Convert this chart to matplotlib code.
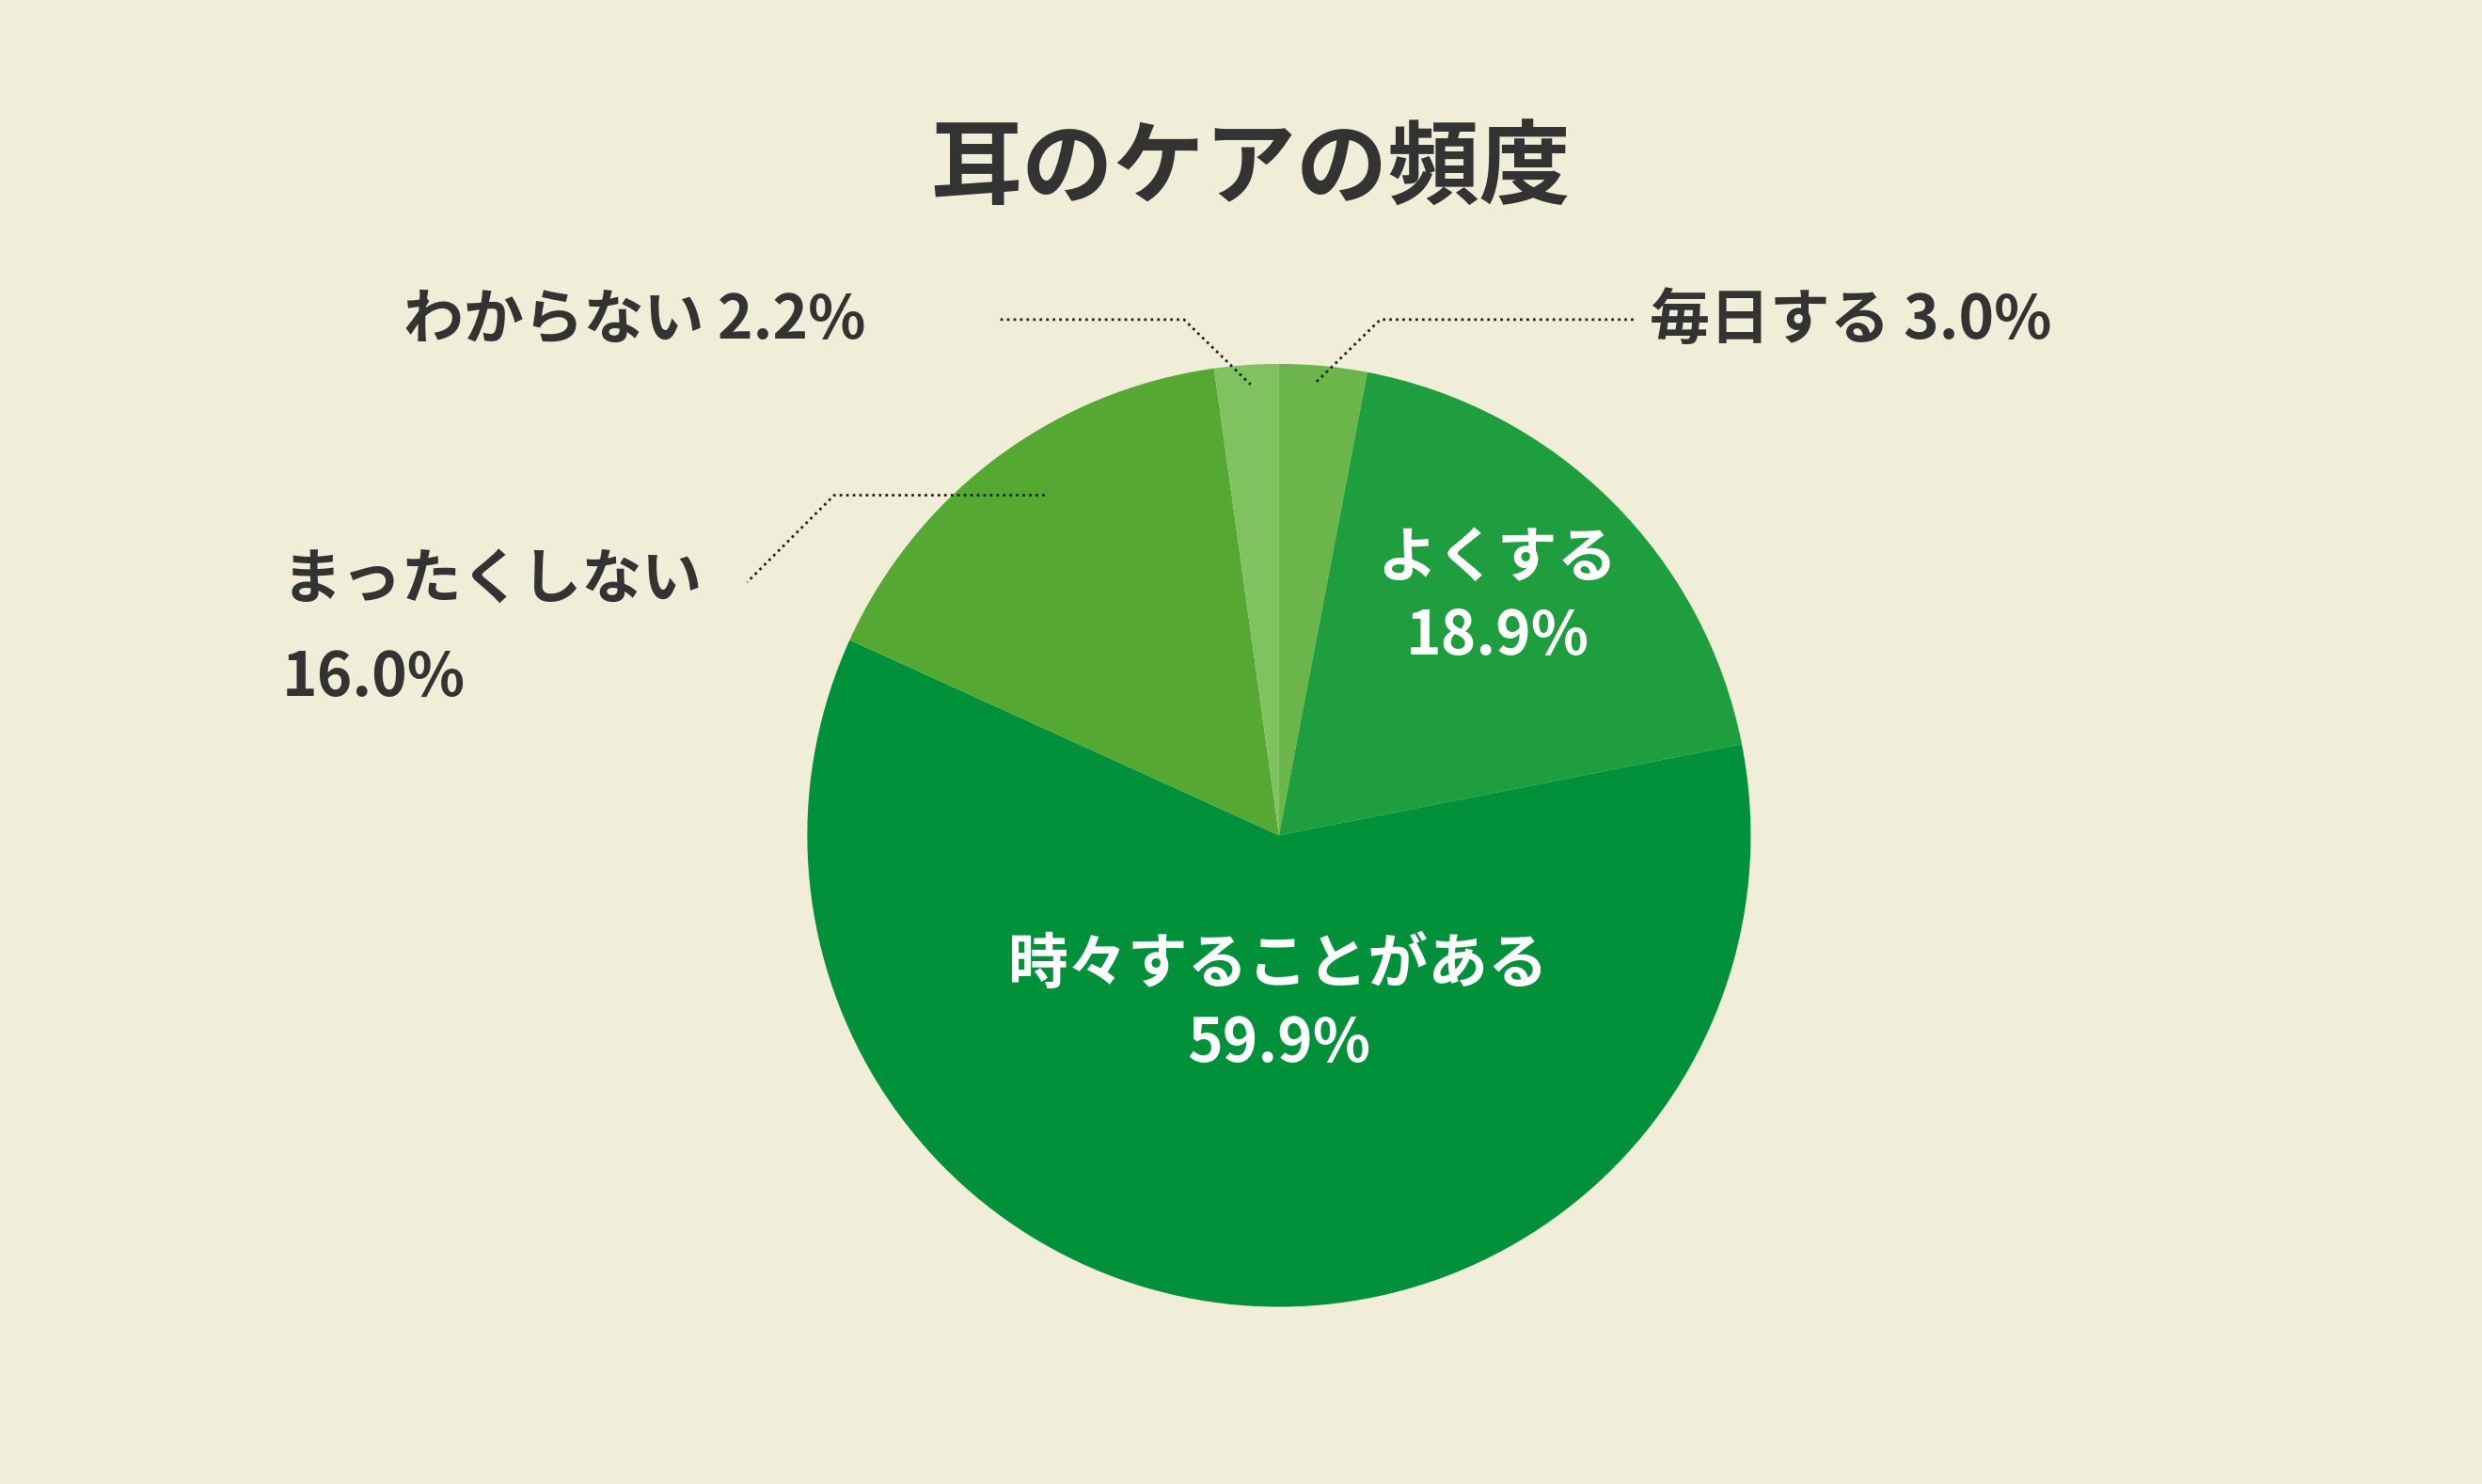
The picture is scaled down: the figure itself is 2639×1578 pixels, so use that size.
import matplotlib
matplotlib.use("Agg")
import matplotlib.pyplot as plt

labels = ["毎日する", "よくする", "時々することがある", "まったくしない", "わからない"]
values = [3.0, 18.9, 59.9, 16.0, 2.2]
colors = ["#6bb54a", "#1e9e3e", "#00913a", "#55a832", "#7fc25f"]

plt.rcParams['font.family'] = ['Noto Sans CJK JP', 'DejaVu Sans']
W, H = 1568, 938
fig = plt.figure(figsize=(26.39, 15.78), dpi=100, facecolor="#f0eed8")
ax = fig.add_axes([0, 0, 1, 1])
ax.set_xlim(0, W); ax.set_ylim(0, H); ax.axis("off")
ax.set_facecolor("#f0eed8")
Y = lambda y: H - y

ax.pie(values, colors=colors, startangle=90, counterclock=False,
       center=(808, Y(528)), radius=298, frame=True,
       wedgeprops=dict(linewidth=0))
ax.set_xlim(0, W); ax.set_ylim(0, H); ax.axis("off")
ax.set_aspect("auto")

dark = "#333333"
ax.text(790, Y(108), "耳のケアの頻度", fontsize=70, fontweight="bold", color=dark, ha="center", va="center")

fs = 46
ax.text(255, Y(203), "わからない 2.2%", fontsize=fs, fontweight="bold", color=dark, ha="left", va="center")
ax.text(1042, Y(203), "毎日する 3.0%", fontsize=fs, fontweight="bold", color=dark, ha="left", va="center")
ax.text(178, Y(367), "まったくしない", fontsize=fs, fontweight="bold", color=dark, ha="left", va="center")
ax.text(178, Y(429), "16.0%", fontsize=fs, fontweight="bold", color=dark, ha="left", va="center")
ax.text(946, Y(378), "よくする\n18.9%", fontsize=fs, fontweight="bold", color="white", ha="center", va="center", linespacing=1.35)
ax.text(808, Y(635), "時々することがある\n59.9%", fontsize=fs, fontweight="bold", color="white", ha="center", va="center", linespacing=1.35)

ls = dict(color="#222222", linestyle=(0, (1, 1.5)), linewidth=2)
ax.plot([632, 748, 790], [Y(202), Y(202), Y(243)], **ls)
ax.plot([1032, 872, 830], [Y(202), Y(202), Y(243)], **ls)
ax.plot([660, 527, 472], [Y(313), Y(313), Y(368)], **ls)

fig.savefig("out.png", dpi=100, facecolor=fig.get_facecolor())
